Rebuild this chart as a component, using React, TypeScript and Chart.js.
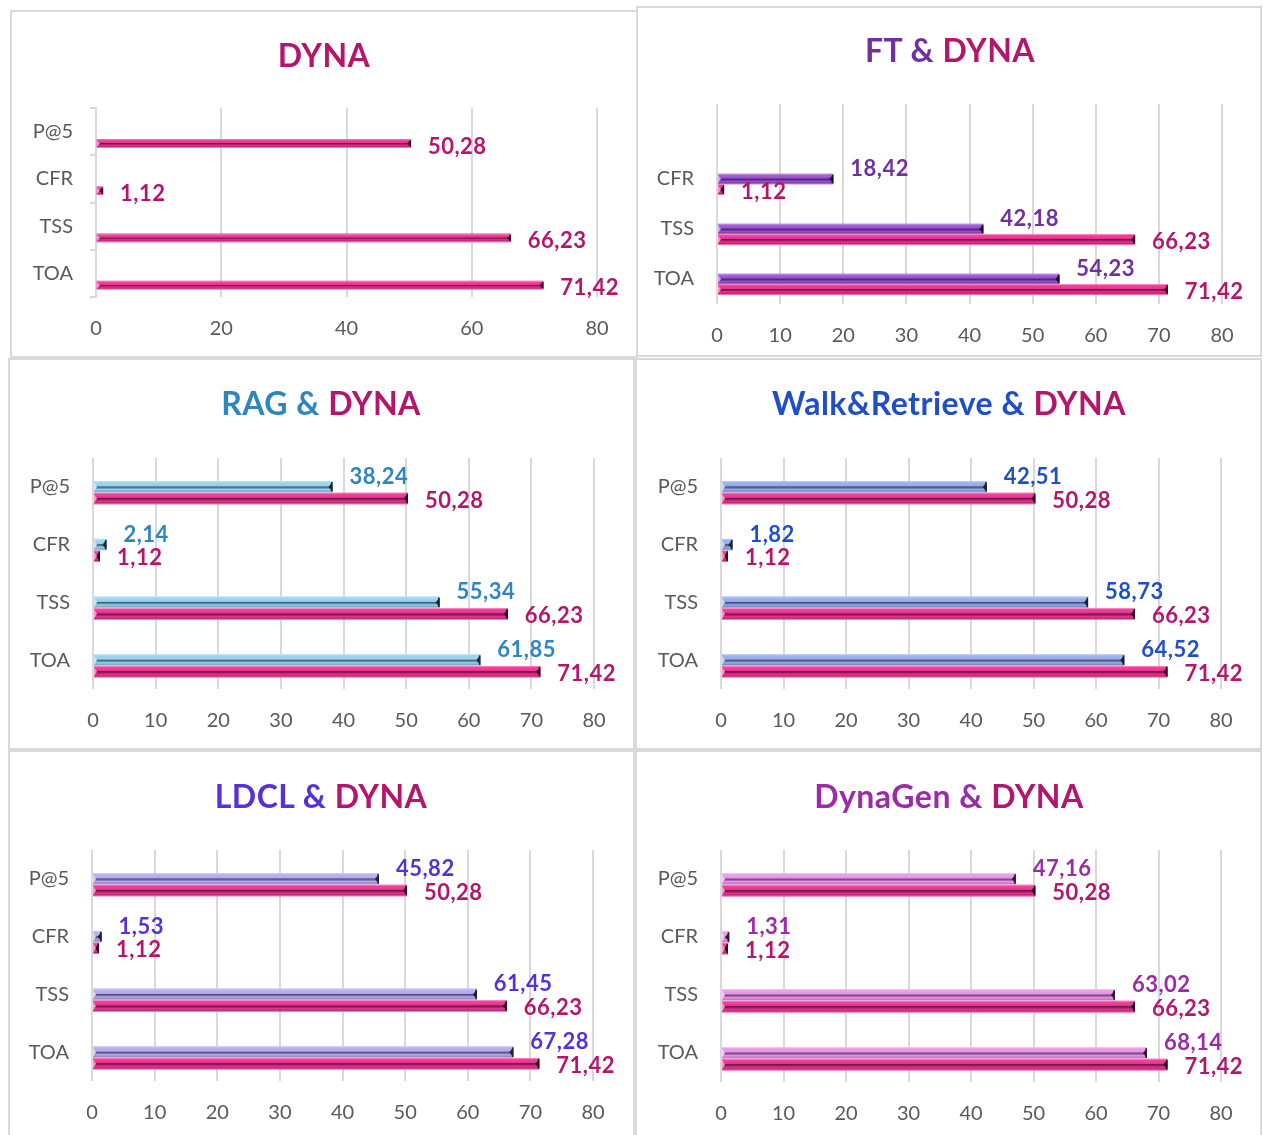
import React, { useEffect, useRef } from 'react';
import { Chart, registerables } from 'chart.js';

Chart.register(...registerables);

// ---------- data ----------
const categories = ['P@5', 'CFR', 'TSS', 'TOA'];
const ftCategories = ['', 'CFR', 'TSS', 'TOA'];
const dynaValues = [50.28, 1.12, 66.23, 71.42];
const dynaValuesFt = [null, 1.12, 66.23, 71.42];
const emptyValues = [null, null, null, null];
const ftValues = [null, 18.42, 42.18, 54.23];
const ragValues = [38.24, 2.14, 55.34, 61.85];
const walkValues = [42.51, 1.82, 58.73, 64.52];
const ldclValues = [45.82, 1.53, 61.45, 67.28];
const dynaGenValues = [47.16, 1.31, 63.02, 68.14];
const xMax = 80;
const xStepSingle = 20;
const xStepPair = 10;

// ---------- styles ----------
const FONT = 'Lato, "Open Sans", "DejaVu Sans", sans-serif';
const BORDER = '#d9d9d9';
const TICK = '#595959';

const DYNA = { bar: '#ea2f8f', text: '#b3166b' };
const FT = { bar: '#9a4ed2', text: '#7030a0' };
const RAG = { bar: '#93d1ef', text: '#2e86c1' };
const WALK = { bar: '#93abec', text: '#1f4fc8' };
const LDCL = { bar: '#b4a8ef', text: '#5631d8' };
const DGEN = { bar: '#ea92ea', text: '#9b2ba8' };

type Series = { label: string; data: (number | null)[]; bar: string; text: string; dy: number };
type Panel = {
  key: string;
  title: { text: string; color: string }[];
  tx: number; ty: number;
  left: number; top: number; width: number; height: number;
  area: { l: number; r: number; t: number; b: number };
  cats: string[];
  series: Series[];
  catPct: number;
  maxBar?: number;
  step: number;
  axisTicks: boolean;
};

const empty = (): Series => ({ label: '', data: emptyValues, bar: '#ffffff', text: '#ffffff', dy: 0 });

const panels: Panel[] = [
  {
    key: 'p1', title: [{ text: 'DYNA', color: DYNA.text }], tx: 324, ty: 55,
    left: 10, top: 10, width: 628, height: 348,
    area: { l: 96, r: 597, t: 108, b: 297 },
    cats: categories,
    series: [empty(), { label: 'DYNA', data: dynaValues, ...DYNA, dy: 3 }],
    catPct: 1, maxBar: 8, step: xStepSingle, axisTicks: true,
  },
  {
    key: 'p2', title: [{ text: 'FT & ', color: FT.text }, { text: 'DYNA', color: DYNA.text }], tx: 950, ty: 50,
    left: 636, top: 6, width: 626, height: 351,
    area: { l: 717, r: 1222, t: 104, b: 304 },
    cats: ftCategories,
    series: [empty(), { label: 'FT', data: ftValues, ...FT, dy: -10 }, { label: 'DYNA', data: dynaValuesFt, ...DYNA, dy: 2 }],
    catPct: 0.63, step: xStepPair, axisTicks: false,
  },
  {
    key: 'p3', title: [{ text: 'RAG & ', color: RAG.text }, { text: 'DYNA', color: DYNA.text }], tx: 321, ty: 403,
    left: 8, top: 358, width: 627, height: 392,
    area: { l: 93, r: 594, t: 458, b: 689 },
    cats: categories,
    series: [empty(), { label: 'RAG', data: ragValues, ...RAG, dy: -10 }, { label: 'DYNA', data: dynaValues, ...DYNA, dy: 2 }],
    catPct: 0.6, step: xStepPair, axisTicks: false,
  },
  {
    key: 'p4', title: [{ text: 'Walk&Retrieve & ', color: WALK.text }, { text: 'DYNA', color: DYNA.text }], tx: 949, ty: 403,
    left: 635, top: 358, width: 627, height: 392,
    area: { l: 721, r: 1221, t: 458, b: 689 },
    cats: categories,
    series: [empty(), { label: 'Walk&Retrieve', data: walkValues, ...WALK, dy: -10 }, { label: 'DYNA', data: dynaValues, ...DYNA, dy: 2 }],
    catPct: 0.6, step: xStepPair, axisTicks: false,
  },
  {
    key: 'p5', title: [{ text: 'LDCL & ', color: LDCL.text }, { text: 'DYNA', color: DYNA.text }], tx: 321, ty: 796,
    left: 8, top: 750, width: 627, height: 390,
    area: { l: 92, r: 593, t: 850, b: 1081 },
    cats: categories,
    series: [empty(), { label: 'LDCL', data: ldclValues, ...LDCL, dy: -10 }, { label: 'DYNA', data: dynaValues, ...DYNA, dy: 2 }],
    catPct: 0.6, step: xStepPair, axisTicks: false,
  },
  {
    key: 'p6', title: [{ text: 'DynaGen & ', color: DGEN.text }, { text: 'DYNA', color: DYNA.text }], tx: 949, ty: 796,
    left: 635, top: 750, width: 627, height: 390,
    area: { l: 721, r: 1221, t: 850, b: 1082 },
    cats: categories,
    series: [empty(), { label: 'DynaGen', data: dynaGenValues, ...DGEN, dy: -10 }, { label: 'DYNA', data: dynaValues, ...DYNA, dy: 2 }],
    catPct: 0.6, step: xStepPair, axisTicks: false,
  },
];

// ---------- helpers ----------
function hexToRgb(h: string) {
  const n = parseInt(h.slice(1), 16);
  return [(n >> 16) & 255, (n >> 8) & 255, n & 255];
}
function mix(h: string, target: number, t: number) {
  const [r, g, b] = hexToRgb(h);
  const f = (c: number) => Math.round(c + (target - c) * t);
  return `rgb(${f(r)},${f(g)},${f(b)})`;
}

const barStylePlugin = {
  id: 'barStyle',
  afterDatasetsDraw(chart: any) {
    const ctx = chart.ctx;
    const ds = chart.data.datasets;
    ds.forEach((d: any, di: number) => {
      const meta = chart.getDatasetMeta(di);
      if (!d.label) return;
      meta.data.forEach((el: any, i: number) => {
        const v = d.data[i];
        if (v === null || v === undefined) return;
        const p = el.getProps(['x', 'y', 'base', 'height'], true);
        const left = Math.min(p.base, p.x);
        const right = Math.max(p.base, p.x);
        const top = p.y - p.height / 2;
        const bottom = p.y + p.height / 2;
        const h = bottom - top;
        const base = d.barBase as string;
        ctx.save();
        const g = ctx.createLinearGradient(0, top, 0, bottom);
        g.addColorStop(0, mix(base, 255, 0.55));
        g.addColorStop(0.12, mix(base, 255, 0.12));
        g.addColorStop(0.42, base);
        g.addColorStop(0.5, mix(base, 0, 0.55));
        g.addColorStop(0.62, mix(base, 0, 0.3));
        g.addColorStop(0.72, base);
        g.addColorStop(0.88, mix(base, 0, 0.18));
        g.addColorStop(1, mix(base, 255, 0.45));
        ctx.fillStyle = g;
        ctx.fillRect(left, top, right - left, h);
        // end cap
        ctx.fillStyle = mix(base, 0, 0.8);
        ctx.beginPath();
        ctx.moveTo(right, top + 1);
        ctx.lineTo(right, bottom - 1);
        ctx.lineTo(right - 4, p.y);
        ctx.closePath();
        ctx.fill();
        ctx.fillRect(right - 1.5, top + 1, 1.5, h - 2);
        // start cap highlight
        ctx.fillStyle = mix(base, 255, 0.5);
        ctx.beginPath();
        ctx.moveTo(left, top + 1);
        ctx.lineTo(left, bottom - 1);
        ctx.lineTo(left + 3, p.y);
        ctx.closePath();
        ctx.fill();
        // value label
        ctx.font = `bold 22px ${FONT}`;
        try { (ctx as any).letterSpacing = '0.5px'; } catch (e) { /* ignore */ }
        ctx.fillStyle = d.labelColor;
        ctx.textAlign = 'left';
        ctx.textBaseline = 'middle';
        ctx.fillText(v.toFixed(2).replace('.', ','), right + 17, p.y + d.labelDy);
        ctx.restore();
      });
    });
  },
};

function PanelChart({ p }: { p: Panel }) {
  const ref = useRef<HTMLCanvasElement | null>(null);
  useEffect(() => {
    if (!ref.current) return;
    const yWidth = p.area.l - p.left;
    const xHeight = p.top + p.height - p.area.b;
    const chart = new Chart(ref.current, {
      type: 'bar',
      data: {
        labels: p.cats,
        datasets: p.series.map((s) => ({
          label: s.label,
          data: s.data,
          backgroundColor: s.bar,
          borderWidth: 0,
          barPercentage: 1,
          categoryPercentage: p.catPct,
          maxBarThickness: p.maxBar,
          barBase: s.bar,
          labelColor: s.text,
          labelDy: s.dy,
        })) as any,
      },
      options: {
        indexAxis: 'y',
        animation: false,
        responsive: false,
        events: [],
        layout: {
          padding: {
            left: 0,
            bottom: 0,
            top: p.area.t - p.top,
            right: p.left + p.width - p.area.r,
          },
        },
        plugins: {
          legend: { display: false },
          tooltip: { enabled: false },
          title: { display: false },
        },
        scales: {
          x: {
            type: 'linear',
            min: 0,
            max: xMax,
            ticks: { stepSize: p.step, color: TICK, font: { family: FONT, size: 20 }, padding: 20 },
            grid: { color: BORDER, lineWidth: 2, drawTicks: false },
            border: { display: false },
            afterFit: (s: any) => { s.height = xHeight; },
          },
          y: {
            type: 'category',
            offset: true,
            ticks: { color: TICK, font: { family: FONT, size: 20 }, padding: p.axisTicks ? 17 : 23 },
            grid: p.axisTicks
              ? { display: true, drawOnChartArea: false, offset: true, tickLength: 6, color: BORDER, lineWidth: 2 }
              : { display: false, drawTicks: false },
            border: p.axisTicks ? { display: true, color: BORDER, width: 2 } : { display: false },
            afterFit: (s: any) => { s.width = yWidth; },
          },
        },
      } as any,
      plugins: [barStylePlugin],
    });
    return () => chart.destroy();
  }, [p]);

  return (
    <>
      <canvas
        ref={ref}
        width={p.width}
        height={p.height}
        style={{ position: 'absolute', left: p.left, top: p.top, width: p.width, height: p.height }}
      />
      <div
        style={{
          position: 'absolute', left: p.left, top: p.top, width: p.width, height: p.height,
          border: `2px solid ${BORDER}`, boxSizing: 'border-box', pointerEvents: 'none',
        }}
      />
      <div
        style={{
          position: 'absolute', left: p.tx - 300, top: p.ty - 19, width: 600, height: 38,
          lineHeight: '38px', textAlign: 'center', fontFamily: FONT, fontWeight: 700, fontSize: 32,
          letterSpacing: '0.5px', whiteSpace: 'nowrap',
        }}
      >
        {p.title.map((t, i) => (
          <span key={i} style={{ color: t.color, whiteSpace: 'pre' }}>{t.text}</span>
        ))}
      </div>
    </>
  );
}

export default function App() {
  return (
    <div style={{ position: 'absolute', left: 0, top: 0, width: 1265, height: 1135, overflow: 'hidden', background: '#ffffff' }}>
      {panels.map((p) => (
        <PanelChart key={p.key} p={p} />
      ))}
    </div>
  );
}
